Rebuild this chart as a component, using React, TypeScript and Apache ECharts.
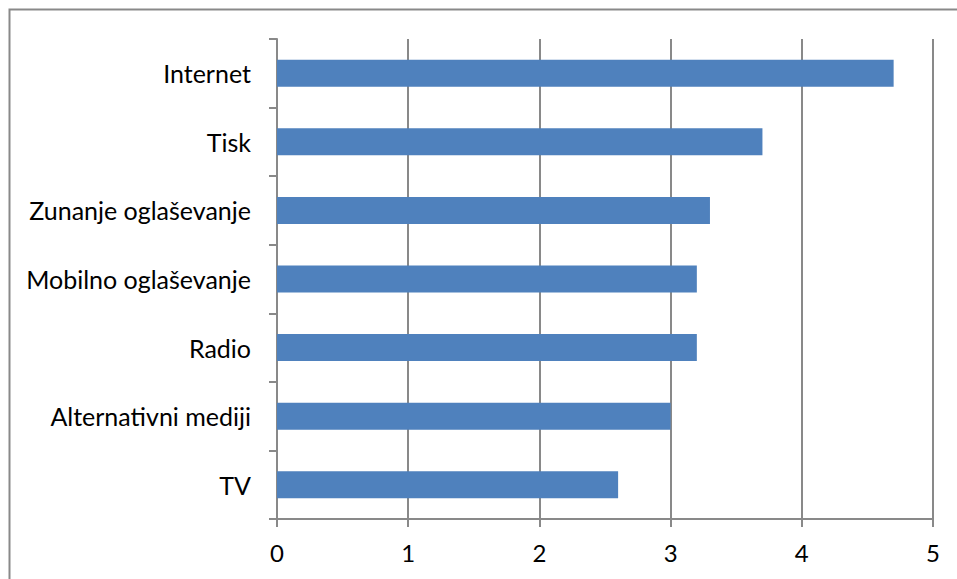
import React, { useEffect, useRef } from "react";
import * as echarts from "echarts";

// Media categories, listed bottom to top as they appear on the axis
const categories = [
  "TV",
  "Alternativni mediji",
  "Radio",
  "Mobilno oglaševanje",
  "Zunanje oglaševanje",
  "Tisk",
  "Internet",
];

// Score per medium
const values = [2.6, 3.0, 3.2, 3.2, 3.3, 3.7, 4.7];

const FONT = "Lato, 'Open Sans', sans-serif";
const GRAY = "#898989";

export default function App() {
  const ref = useRef<HTMLDivElement>(null);

  useEffect(() => {
    if (!ref.current) return;
    const chart = echarts.init(ref.current, null, { renderer: "svg" });
    chart.setOption({
      animation: false,
      backgroundColor: "#ffffff",
      graphic: [
        {
          type: "rect",
          shape: { x: 9.5, y: 9.5, width: 1000, height: 1000 },
          style: { fill: "none", stroke: GRAY, lineWidth: 2 },
          silent: true,
          z: -1,
        },
      ],
      grid: { left: 277, right: 24, top: 39, bottom: 60, containLabel: false },
      xAxis: {
        type: "value",
        min: 0,
        max: 5,
        interval: 1,
        axisLine: { show: true, lineStyle: { color: GRAY, width: 2 } },
        axisTick: { show: true, length: 8, lineStyle: { color: GRAY, width: 2 } },
        axisLabel: { color: "#000", fontFamily: FONT, fontSize: 24, margin: 21 },
        splitLine: { show: true, lineStyle: { color: GRAY, width: 2 } },
      },
      yAxis: {
        type: "category",
        data: categories,
        axisLine: { show: true, lineStyle: { color: GRAY, width: 2 } },
        axisTick: { show: true, length: 8, lineStyle: { color: GRAY, width: 2 } },
        axisLabel: { color: "#000", fontFamily: FONT, fontSize: 25, margin: 26 },
        splitLine: { show: false },
      },
      series: [
        {
          type: "bar",
          data: values,
          barWidth: 27,
          itemStyle: { color: "#4F81BD" },
        },
      ],
    });
    return () => chart.dispose();
  }, []);

  return (
    <div
      ref={ref}
      style={{ position: "absolute", left: 0, top: 0, width: 957, height: 579 }}
    />
  );
}
